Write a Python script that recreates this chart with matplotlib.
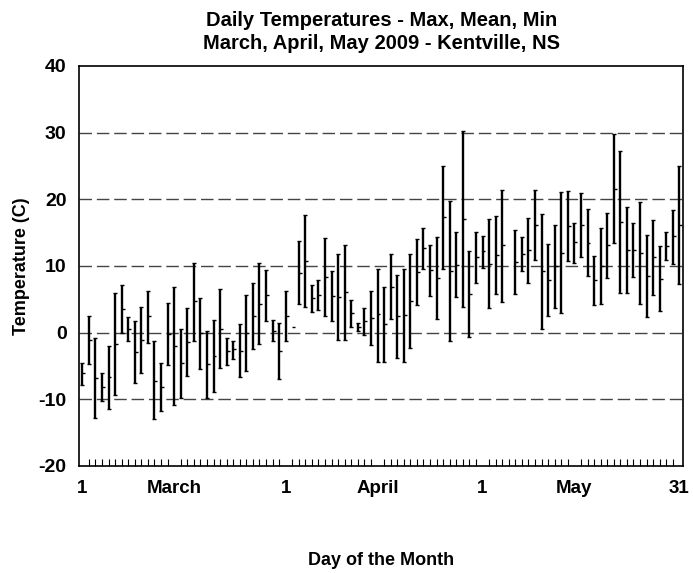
import numpy as np
import matplotlib.pyplot as plt

plt.rcParams['font.family'] = ['Liberation Sans', 'DejaVu Sans']
plt.rcParams['font.weight'] = 'bold'
plt.rcParams['axes.unicode_minus'] = False

# Daily temperatures (C)
mar_max = [-4.5, 2.5, -0.8, -6.0, -2.0, 6.0, 7.2, 2.3, 1.7, 3.9, 6.3, -1.3, -4.5, 4.4, 6.8, 0.5,
           3.7, 10.4, 5.2, 0.3, 1.9, 6.5, -0.8, -1.2, 1.3, 5.7, 7.4, 10.5, 9.4, 1.9, 1.4]
mar_mean = [-6.1, -1.1, -6.8, -8.1, -6.6, -1.7, 3.5, 0.5, -2.9, -1.1, 2.5, -7.2, -8.2, -0.2, -2.0, -4.6,
            -1.4, 4.7, -0.1, -4.7, -3.5, 0.6, -2.8, -2.5, -2.7, 0.0, 2.5, 4.3, 5.6, 0.3, -2.7]
mar_min = [-7.8, -4.7, -12.8, -10.3, -11.4, -9.3, -0.1, -1.2, -7.6, -6.1, -1.6, -12.9, -11.8, -4.9, -10.9, -9.8,
           -6.5, -1.2, -5.5, -9.8, -8.9, -5.3, -4.8, -3.9, -6.7, -5.8, -2.4, -1.7, 1.8, -1.25, -6.9]

apr_max = [6.3, np.nan, 13.7, 17.6, 7.1, 7.85, 14.2, 9.3, 11.85, 13.1, 4.9, 1.5, 3.7, 6.2, 9.6,
           6.9, 11.8, 8.7, 9.6, 11.8, 14.1, 15.7, 13.1, 14.3, 25.0, 19.8, 15.1, 30.2, 12.2, 15.1]
apr_mean = [2.5, 0.8, 8.9, 10.7, 5.15, 5.65, 8.4, 5.45, 5.35, 6.1, 2.9, 0.9, 1.7, 2.2, 2.75,
            1.3, 6.9, 2.5, 2.7, 4.75, 9.1, 12.7, 9.4, 8.2, 17.3, 9.3, 10.2, 17.0, 5.8, 11.3]
apr_min = [-1.25, np.nan, 4.3, 3.8, 3.1, 3.4, 2.55, 1.8, -1.15, -1.05, 0.9, 0.2, -0.3, -1.8, -4.4,
           -4.4, 2.0, -3.75, -4.35, -2.35, 4.15, 9.6, 5.5, 2.1, 9.6, -1.2, 5.4, 3.8, -0.7, 7.5]

may_max = [14.55, 17.0, 17.5, 21.4, np.nan, 15.35, 14.35, 17.15, 21.45, 17.85, 13.3, 16.1, 21.15, 21.2, 16.45, 21.0,
           18.5, 11.5, 15.75, 17.9, 29.75, 27.3, 18.8, 16.5, 19.6, 14.7, 16.9, 12.95, 15.1, 18.45, 25.0]
may_mean = [12.2, 10.35, 11.65, 13.1, np.nan, 10.6, 11.75, 12.35, 16.2, 9.25, 7.9, 9.95, 12.0, 16.05, 13.55, 16.2,
            13.5, 7.85, 10.0, 13.1, 21.6, 16.65, 12.35, 12.35, 12.0, 8.5, 11.35, 8.1, 13.05, 14.45, 16.2]
may_min = [9.75, 3.7, 5.75, 4.6, np.nan, 5.75, 9.25, 7.5, 10.95, 0.6, 2.55, 3.7, 2.9, 10.8, 10.45, 11.35,
           8.5, 4.1, 4.25, 8.25, 13.45, 6.0, 5.9, 8.35, 4.25, 2.4, 5.7, 3.25, 10.85, 10.35, 7.35]

tick_pos = [0, 14, 31, 45, 61, 75, 91]
tick_labels = ['1', 'March', '1', 'April', '1', 'May', '31']
grid_levels = [-10, 0, 10, 20, 30]

t_max = np.array(mar_max + apr_max + may_max, dtype=float)
t_mean = np.array(mar_mean + apr_mean + may_mean, dtype=float)
t_min = np.array(mar_min + apr_min + may_min, dtype=float)
days = np.arange(len(t_max))

fig = plt.figure(figsize=(6.93, 5.73), dpi=100)
ax = fig.add_axes([0.114, 0.187, 0.872, 0.698])

for lvl in grid_levels:
    ax.axhline(lvl, color='#444444', lw=1, dashes=(9, 3.5), zorder=1)

ax.vlines(days, t_min, t_max, color='black', lw=1.7, zorder=3)
ax.plot(days, t_max, '_', ms=3.5, mew=1, color='black', zorder=3)
ax.plot(days, t_min, '_', ms=3.5, mew=1, color='black', zorder=3)
ax.hlines(t_mean, days, days + 0.45, color='black', lw=1, zorder=3)

ax.set_xlim(-0.5, 91.6)
ax.set_ylim(-20, 40)
ax.set_yticks(range(-20, 41, 10))
ax.tick_params(axis='y', length=0, pad=9, labelsize=14)
ax.set_xticks(tick_pos, labels=tick_labels)
ax.set_xticks(days, minor=True)
ax.tick_params(axis='x', which='major', length=0, pad=10, labelsize=13.5)
ax.tick_params(axis='x', which='minor', direction='in', length=5, width=0.8)

for s in ax.spines.values():
    s.set_linewidth(1.2)

ax.set_title('Daily Temperatures - Max, Mean, Min\nMarch, April, May 2009 - Kentville, NS',
             fontsize=14.5, fontweight='bold', pad=12, linespacing=1.3)
ax.set_ylabel('Temperature (C)', fontsize=13, fontweight='bold', labelpad=6)
ax.set_xlabel('Day of the Month', fontsize=13, fontweight='bold', labelpad=40)

fig.savefig('out.png', dpi=100)
